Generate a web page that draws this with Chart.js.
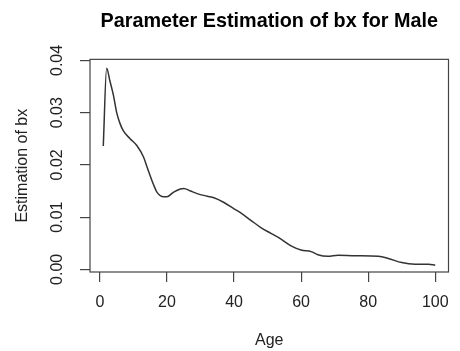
<!DOCTYPE html>
<html>
<head>
<meta charset="utf-8">
<script src="https://cdn.jsdelivr.net/npm/chart.js@4"></script>
<style>
  html, body { margin: 0; padding: 0; background: #fff; }
  #wrap { width: 460px; height: 351px; }
</style>
</head>
<body>
<div id="wrap"><canvas id="bx-chart" width="460" height="351"></canvas></div>
<script>
// values
const ages = [1, 2, 3, 4, 5, 6, 7, 9, 11, 13, 14, 16, 17, 19, 20, 22, 24, 25, 27, 29,
  32, 34, 37, 40, 42, 45, 48, 51, 54, 57, 60, 63, 65, 68, 71, 76, 83, 86, 90, 94, 98, 100];
const bx = [0.0236, 0.0385, 0.0360, 0.0334, 0.0300, 0.0279, 0.0265, 0.0250, 0.0237, 0.0215,
  0.0197, 0.0162, 0.0148, 0.0139, 0.0139, 0.0148, 0.0154, 0.0155, 0.0150, 0.0145,
  0.0140, 0.0137, 0.0128, 0.0116, 0.0108, 0.0094, 0.0080, 0.0069, 0.0058, 0.0045,
  0.0037, 0.0034, 0.0028, 0.0025, 0.0027, 0.0026, 0.0025, 0.0021, 0.0013, 0.0010,
  0.0010, 0.0008];
const xTicks = [0, 20, 40, 60, 80, 100];
const yTicks = [0, 0.01, 0.02, 0.03, 0.04];

const textColor = "#222";
const axisColor = "#444";
const font = "Liberation Sans, Arial, sans-serif";

// R style box around the plot region
const boxPlugin = {
  id: "plotBox",
  afterDraw(chart) {
    const { ctx, chartArea: a } = chart;
    ctx.save();
    ctx.strokeStyle = axisColor;
    ctx.lineWidth = 1.2;
    ctx.strokeRect(a.left, a.top, a.right - a.left, a.bottom - a.top);
    ctx.restore();
  },
};

const points = ages.map((a, i) => ({ x: a, y: bx[i] }));

new Chart(document.getElementById("bx-chart"), {
  type: "line",
  data: {
    datasets: [
      {
        data: points,
        borderColor: "#333",
        borderWidth: 1.5,
        pointRadius: 0,
        cubicInterpolationMode: "monotone",
        fill: false,
      },
    ],
  },
  options: {
    responsive: false,
    animation: false,
    layout: { padding: { left: 0, right: 0.7, top: 0, bottom: 0 } },
    plugins: {
      legend: { display: false },
      tooltip: { enabled: false },
      title: {
        display: true,
        text: "Parameter Estimation of bx for Male",
        fullSize: false,
        color: "#000",
        font: { family: font, size: 19.8, weight: "bold" },
        padding: { top: 9.6, bottom: 26 },
      },
    },
    scales: {
      x: {
        type: "linear",
        min: -2.96,
        max: 103.96,
        afterBuildTicks: (s) => { s.ticks = xTicks.map((v) => ({ value: v })); },
        afterFit: (s) => { s.height = 79; },
        grid: { drawOnChartArea: false, drawTicks: true, tickLength: 10, color: axisColor, lineWidth: 1.2 },
        border: { display: false },
        ticks: {
          color: textColor,
          font: { family: font, size: 16 },
          padding: 11,
          maxRotation: 0,
          autoSkip: false,
        },
        title: {
          display: true,
          text: "Age",
          color: textColor,
          font: { family: font, size: 16 },
          padding: { top: 0, bottom: 0.4 },
        },
      },
      y: {
        type: "linear",
        min: -0.0005,
        max: 0.0402,
        afterBuildTicks: (s) => { s.ticks = yTicks.map((v) => ({ value: v })); },
        afterFit: (s) => { s.width = 90; },
        grid: { drawOnChartArea: false, drawTicks: true, tickLength: 10, color: axisColor, lineWidth: 1.2 },
        border: { display: false },
        ticks: {
          color: textColor,
          font: { family: font, size: 16 },
          padding: 6.4,
          minRotation: 90,
          maxRotation: 90,
          crossAlign: "center",
          autoSkip: false,
          callback: (v) => v.toFixed(2),
        },
        title: {
          display: true,
          text: "Estimation of bx",
          color: textColor,
          font: { family: font, size: 16 },
          padding: { top: 13.4, bottom: 0 },
        },
      },
    },
  },
  plugins: [boxPlugin],
});
</script>
</body>
</html>
